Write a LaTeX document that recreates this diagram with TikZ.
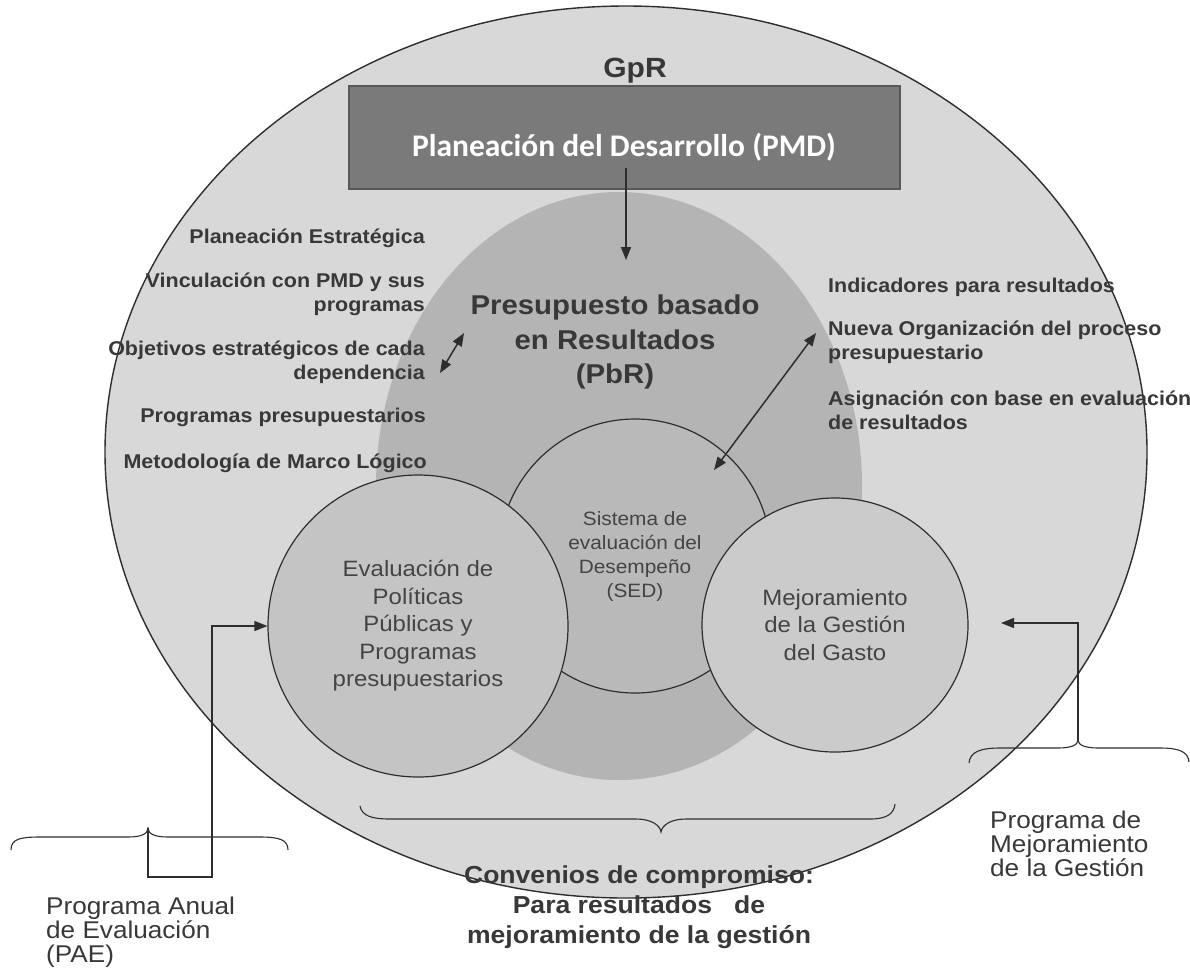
\documentclass[tikz,border=0pt]{standalone}
\usepackage{fontspec}
\setmainfont{Liberation Sans}
\newfontfamily\swf[FakeStretch=1.08]{Liberation Sans}
\newfontfamily\cbf{Carlito}
\usetikzlibrary{shapes.geometric,arrows.meta}
\definecolor{outerfill}{HTML}{D8D8D8}
\definecolor{pbrfill}{HTML}{B4B4B4}
\definecolor{evalfill}{HTML}{C4C4C4}
\definecolor{sedfill}{HTML}{B9B9B9}
\definecolor{mejfill}{HTML}{CBCBCB}
\definecolor{pmdfill}{HTML}{7A7A7A}
\definecolor{linec}{HTML}{2E2E2E}
\definecolor{txtc}{HTML}{383838}
\definecolor{ctxt}{HTML}{444444}
\begin{document}
\begin{tikzpicture}[x=1pt,y=-1pt,
  shp/.style={ellipse,draw=linec,line width=1.2pt,inner sep=0pt},
  sidelbl/.style={text=txtc,inner sep=0pt,font={\swf\bfseries\fontsize{19.9}{24}\selectfont}},
  circtxt/.style={text=ctxt,inner sep=0pt,align=center,font={\swf\fontsize{22.2}{27.5}\selectfont}},
  bottxt/.style={text=txtc,inner sep=0pt,font={\swf\fontsize{24.2}{24}\selectfont}},
  arr/.style={draw=linec,line width=1.5pt,-{Triangle[length=13pt,width=10pt]}},
  darr/.style={draw=linec,line width=1.5pt,{Triangle[length=13pt,width=10pt]}-{Triangle[length=13pt,width=10pt]}},
  conn/.style={draw=linec,line width=1.3pt},
  bracel/.style={draw=linec,line width=1.1pt}
]
\useasboundingbox (0,0) rectangle (1190,970);
\fill[white] (0,0) rectangle (1190,970);

% main shapes
\node[shp,line width=1.4pt,fill=outerfill,minimum width=1042pt,minimum height=892pt] (gprell) at (626,452) {};
\node[ellipse,fill=pbrfill,inner sep=0pt,minimum width=486pt,minimum height=588pt] (pbrell) at (619,486) {};
\node[draw=linec!80,line width=1.2pt,fill=pmdfill,minimum width=551pt,minimum height=103pt,inner sep=0pt] (pmd) at (624.5,137.5) {};
\node[shp,fill=sedfill,minimum width=272pt,minimum height=274pt,font={\swf\fontsize{19.3}{24}\selectfont},text=ctxt,align=center] (sed) at (635,556) {Sistema de\\evaluación del\\Desempeño\\(SED)};
\node[shp,fill=evalfill,minimum width=300pt,minimum height=302pt,circtxt] (eval) at (418,626) {Evaluación de\\Políticas\\Públicas y\\Programas\\presupuestarios};
\node[shp,fill=mejfill,minimum width=266pt,minimum height=254pt,circtxt] (mej) at (835,625) {Mejoramiento\\de la Gestión\\del Gasto};

% titles
\node[anchor=base,text=txtc,inner sep=0pt,font={\swf\bfseries\fontsize{27.8}{30}\selectfont}] (gpr) at (635,77) {GpR};
\node[text=white,inner sep=0pt,font={\cbf\bfseries\fontsize{31.5}{36}\selectfont}] (pmdt) at (624,147) {Planeación del Desarrollo (PMD)};
\node[text=txtc,inner sep=0pt,align=center,font={\swf\bfseries\fontsize{27.2}{34.5}\selectfont}] (pbrt) at (615,342) {Presupuesto basado\\en Resultados\\(PbR)};

% left labels
\node[sidelbl,anchor=east] (pe) at (425,238) {Planeación Estratégica};
\node[sidelbl,anchor=east,align=right] (vp) at (425,294) {Vinculación con PMD y sus\\programas};
\node[sidelbl,anchor=east,align=right] (oe) at (425,362) {Objetivos estratégicos de cada\\dependencia};
\node[sidelbl,anchor=east] (pp) at (426,417) {Programas presupuestarios};
\node[sidelbl,anchor=east] (ml) at (427,463) {Metodología de Marco Lógico};

% right labels
\node[sidelbl,anchor=west] (ir) at (828,287) {Indicadores para resultados};
\node[sidelbl,anchor=west,align=left] (no) at (828,342) {Nueva Organización del proceso\\presupuestario};
\node[sidelbl,anchor=west,align=left] (as) at (828,410) {Asignación con base en evaluación\\de resultados};

% arrows
\coordinate (c1) at (626,168);
\coordinate (c2) at (626,260);
\draw[arr] (c1) -- (c2);
\coordinate (a1) at (440,373);
\coordinate (a2) at (464,333);
\draw[darr] (a1) -- (a2);
\coordinate (b1) at (714,470);
\coordinate (b2) at (816,333);
\draw[darr] (b1) -- (b2);

% bottom labels
\node[bottxt,anchor=west,align=left] (pae) at (46,932) {Programa Anual\\de Evaluación\\(PAE)};
\node[bottxt,anchor=west,align=left] (pmg) at (990,844) {Programa de\\Mejoramiento\\de la Gestión};
\node[text=txtc,inner sep=0pt,align=center,font={\swf\bfseries\fontsize{24.6}{30}\selectfont}] (conv) at (639,907) {Convenios de compromiso:\\Para resultados\ \ \ de\\mejoramiento de la gestión};

% braces
\draw[bracel] (11,850) .. controls (11,839) and (20,837) .. (40,837) -- (128,837) .. controls (141,837) and (148,834) .. (148,828) .. controls (148,834) and (155,837) .. (168,837) -- (260,837) .. controls (280,837) and (288,840) .. (288,850);
\draw[bracel] (360,806) .. controls (362,816) and (372,819) .. (390,819) -- (636,819) .. controls (651,819) and (660,825) .. (661,832) .. controls (662,825) and (671,819) .. (686,819) -- (870,819) .. controls (888,819) and (894,813) .. (895,804);
\draw[bracel] (969,763) .. controls (970,752) and (980,748) .. (1000,748) -- (1058,748) .. controls (1071,748) and (1078,745) .. (1078,740) .. controls (1078,745) and (1085,748) .. (1098,748) -- (1160,748) .. controls (1180,748) and (1188,752) .. (1189,762);

% bracket connectors
\coordinate (paetip) at (148,828);
\coordinate (paecorner) at (212,877);
\draw[conn,-{Triangle[length=13pt,width=10pt]}] (paetip) |- (paecorner) |- (eval.west);
\coordinate (pmgtip) at (1078,740);
\coordinate (pmgend) at (1001,623);
\draw[conn,-{Triangle[length=13pt,width=10pt]}] (pmgtip) |- (pmgend);
\end{tikzpicture}
\end{document}
